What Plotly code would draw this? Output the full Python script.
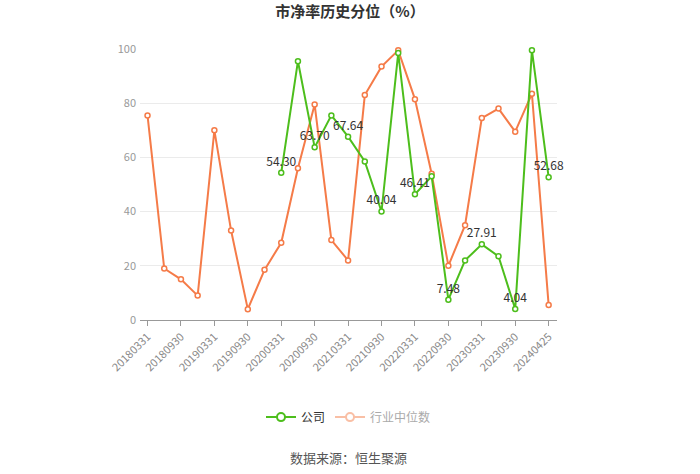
import plotly.graph_objects as go

dates = ["20180331","20180630","20180930","20181231","20190331","20190630","20190930","20191231",
         "20200331","20200630","20200930","20201231","20210331","20210630","20210930","20211231",
         "20220331","20220630","20220930","20221231","20230331","20230630","20230930","20231231","20240425"]
industry = [75.5, 19, 15, 9, 70, 33, 4, 18.5, 28.5, 56, 79.5, 29.5, 22, 83, 93.5, 99.5,
            81.5, 54, 20, 35, 74.5, 78, 69.5, 83.5, 5.5]
company = [None]*8 + [54.30, 95.5, 63.70, 75.5, 67.64, 58.5, 40.04, 98.5, 46.41, 53, 7.48, 22,
                      27.91, 23.5, 4.04, 99.5, 52.68]
label_idx = [8, 10, 12, 14, 16, 18, 20, 22, 24]

GREEN = "#4DBE1C"
ORANGE = "#F57B48"
FONT = "Noto Sans CJK SC"

fig = go.Figure()
fig.add_trace(go.Scatter(
    x=dates, y=industry, mode="lines+markers", name="行业中位数", showlegend=False,
    line=dict(color=ORANGE, width=2), cliponaxis=False,
    marker=dict(symbol="circle", size=5, color="white", line=dict(color=ORANGE, width=1.5)),
))
texts = [f"{company[i]:.2f}" if (i in label_idx and company[i] is not None) else "" for i in range(len(dates))]
fig.add_trace(go.Scatter(
    x=dates, y=company, mode="lines+markers+text", name="公司", showlegend=False,
    text=texts, textposition="top center", textfont=dict(size=12, color="#333", family=FONT),
    line=dict(color=GREEN, width=2), cliponaxis=False,
    marker=dict(symbol="circle", size=5, color="white", line=dict(color=GREEN, width=1.5)),
    connectgaps=False,
))
# legend entries
fig.add_trace(go.Scatter(
    x=[None], y=[None], mode="lines+markers", name="公司",
    line=dict(color=GREEN, width=2),
    marker=dict(symbol="circle", size=8, color="white", line=dict(color=GREEN, width=2)),
))
fig.add_trace(go.Scatter(
    x=[None], y=[None], mode="lines+markers", name='<span style="color:#aaa">行业中位数</span>',
    line=dict(color="#F9BFA5", width=2),
    marker=dict(symbol="circle", size=8, color="white", line=dict(color="#F9BFA5", width=2)),
))

fig.update_layout(
    width=700, height=474,
    paper_bgcolor="white", plot_bgcolor="white",
    margin=dict(l=140, r=143, t=49, b=154),
    font=dict(family=FONT, color="#666"),
    title=dict(text="<b>市净率历史分位（%）</b>", x=0.5, xanchor="center", y=0.975, yref="container",
               yanchor="middle", font=dict(size=15, color="#333", family=FONT)),
    showlegend=True,
    legend=dict(orientation="h", x=0.5, xanchor="center", y=0.12, yref="container", yanchor="middle",
                font=dict(size=12, color="#333", family=FONT), itemwidth=30),
    annotations=[dict(text="数据来源：恒生聚源", x=0.5, xref="paper", y=-0.509, yref="paper",
                      yanchor="middle", showarrow=False, font=dict(size=13, color="#555", family=FONT))],
)
fig.update_xaxes(
    type="category", range=[-0.45, 24.5],
    tickmode="array", tickvals=dates[::2], ticktext=dates[::2],
    tickangle=-45, tickfont=dict(size=11, color="#888"),
    showline=True, linecolor="#999", linewidth=1, ticks="outside", tickcolor="#999", ticklen=5,
    showgrid=False, zeroline=False,
)
fig.update_yaxes(
    range=[0, 100], tickvals=[0, 20, 40, 60, 80, 100], tickfont=dict(size=11, color="#999"),
    showgrid=True, gridcolor="#EBEBEB", gridwidth=1, showline=False, zeroline=False, ticks="",
    ticklabelstandoff=3,
)
fig.write_html("out.html", config={"displayModeBar": False},
               post_script="document.body.style.margin='0';")
